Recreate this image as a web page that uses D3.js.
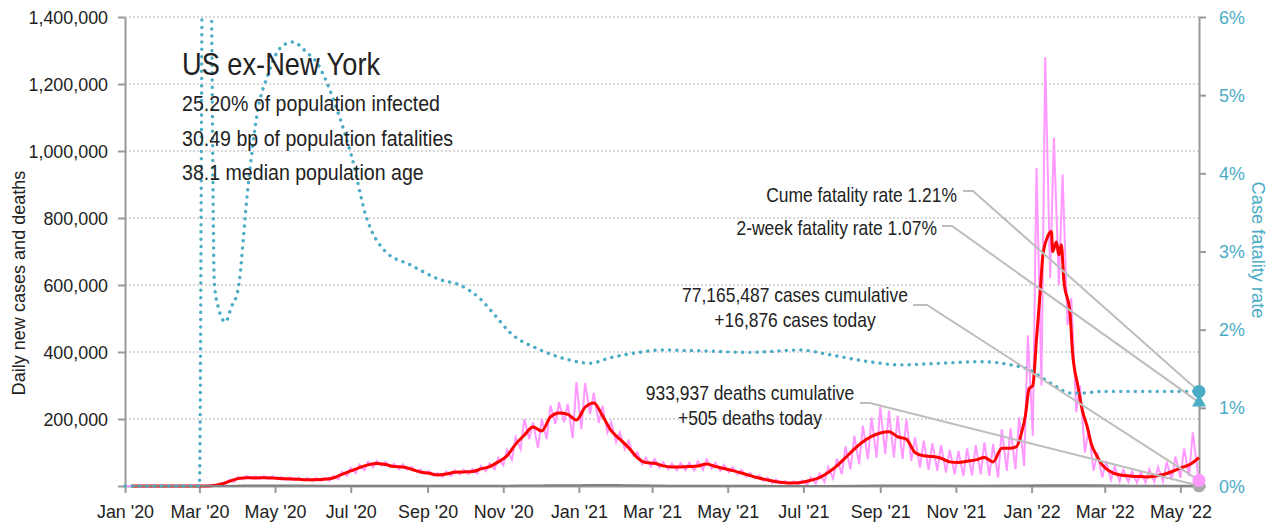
<!DOCTYPE html>
<html>
<head>
<meta charset="utf-8">
<script src="https://cdn.jsdelivr.net/npm/d3@7"></script>
<style>
body{margin:0;background:#fff}
text{font-family:"Liberation Sans",Arial,sans-serif;fill:#222}
</style>
</head>
<body>
<svg id="chart"></svg>
<script>
// weekly daily-case readings (thousands), weeks start on Wednesdays from 2020-01-01
const weekStart = "2020-01-01";
const pinkHigh = [0,0,0,0,0,0,0,0,0.1,0.3,
  1.5,8,19,27,30,29,30,29,27,26,
  25,24,24,25,30,42,54,64,72,75,
  72,66,65,57,49,45,39,43,48,49,
  51,60,67,84,108,145,200,190,200,240,
  250,245,310,307,278,240,190,160,135,100,
  84,80,71,67,68,69,74,80,69,63,
  56,48,39,31,25,19,15,14,17,26,
  37,57,82,118,150,180,205,236,225,210,
  200,145,135,128,122,108,105,112,122,130,
  125,170,172,205,450,950,1280,1040,930,560,
  300,170,100,75,58,48,44,42,50,56,
  72,88,112,160];
const pinkLow = [0,0,0,0,0,0,0,0,0,0.1,
  0.7,4,12,19,22,21,21,20,18,17,
  16,14,15,16,20,30,38,47,56,60,
  56,50,49,43,36,31,27,30,35,36,
  37,44,50,62,78,110,140,113,140,185,
  190,143,170,215,188,160,130,110,90,65,
  58,55,50,47,47,46,48,52,45,41,
  35,28,22,15,9,7,5,4,4,7,
  12,22,35,50,65,80,85,95,85,80,
  75,55,48,45,40,35,30,32,35,30,
  25,45,50,60,150,300,620,600,480,220,
  100,45,25,18,14,12,10,10,12,14,
  18,24,30,40];

// 7-day average of new cases (thousands)
const caseAvg = [
  ["2020-01-06",0],["2020-02-26",0],["2020-03-04",0.1],["2020-03-11",0.7],["2020-03-18",5],["2020-03-25",14],
  ["2020-04-01",22],["2020-04-08",25],["2020-04-15",24],["2020-04-22",25],["2020-04-29",24],["2020-05-06",22],
  ["2020-05-13",21],["2020-05-20",20],["2020-05-27",19],["2020-06-03",19],["2020-06-10",20],["2020-06-17",24],
  ["2020-06-24",35],["2020-07-01",45],["2020-07-08",55],["2020-07-15",63],["2020-07-22",67],["2020-07-29",64],
  ["2020-08-05",58],["2020-08-12",57],["2020-08-19",50],["2020-08-26",42],["2020-09-02",38],["2020-09-09",33],
  ["2020-09-16",36],["2020-09-23",41],["2020-09-30",42],["2020-10-07",43],["2020-10-14",51],["2020-10-21",58],
  ["2020-10-28",72],["2020-11-04",90],["2020-11-11",125],["2020-11-18",152],["2020-11-25",176],["2020-12-02",164],
  ["2020-12-09",206],["2020-12-16",218],["2020-12-23",214],["2020-12-30",197],["2021-01-06",235],["2021-01-13",248],
  ["2021-01-20",210],["2021-01-27",165],["2021-02-03",140],["2021-02-10",115],["2021-02-17",85],["2021-02-24",70],
  ["2021-03-03",68],["2021-03-10",60],["2021-03-17",57],["2021-03-24",57],["2021-03-31",58],["2021-04-07",60],
  ["2021-04-14",66],["2021-04-21",58],["2021-04-28",52],["2021-05-05",46],["2021-05-12",39],["2021-05-19",31],
  ["2021-05-26",24],["2021-06-02",18],["2021-06-09",13],["2021-06-16",10],["2021-06-23",9],["2021-06-30",11],
  ["2021-07-07",17],["2021-07-14",25],["2021-07-21",40],["2021-07-28",60],["2021-08-04",85],["2021-08-11",110],
  ["2021-08-18",132],["2021-08-25",148],["2021-09-01",158],["2021-09-08",162],["2021-09-15",147],["2021-09-22",140],
  ["2021-09-29",100],["2021-10-06",90],["2021-10-13",88],["2021-10-20",83],["2021-10-27",72],["2021-11-03",70],
  ["2021-11-10",74],["2021-11-17",78],["2021-11-24",85],["2021-12-01",72],["2021-12-08",113],["2021-12-15",113],
  ["2021-12-20",118],["2021-12-24",160],["2021-12-27",210],["2021-12-30",290],["2022-01-02",300],["2022-01-05",440],
  ["2022-01-08",580],["2022-01-10",685],["2022-01-14",745],["2022-01-17",760],["2022-01-18",700],["2022-01-21",728],
  ["2022-01-23",690],["2022-01-25",720],["2022-01-27",615],["2022-02-01",515],["2022-02-03",400],["2022-02-07",305],
  ["2022-02-11",225],["2022-02-15",175],["2022-02-18",128],["2022-02-23",87],["2022-02-26",68],["2022-03-07",40],
  ["2022-03-14",33],["2022-03-21",30],["2022-03-28",28],["2022-04-04",27],["2022-04-11",30],["2022-04-18",35],
  ["2022-04-25",44],["2022-05-02",55],["2022-05-09",65],["2022-05-16",85]];

// daily deaths (thousands)
const deaths = [
  ["2020-01-06",0],["2020-03-01",0],["2020-03-15",0.1],["2020-03-31",0.8],["2020-04-15",1.6],["2020-05-01",1.5],
  ["2020-05-15",1.2],["2020-06-15",0.7],["2020-07-15",0.8],["2020-08-01",1.1],["2020-08-15",1.0],["2020-09-15",0.75],
  ["2020-10-15",0.7],["2020-11-15",1.2],["2020-12-01",1.7],["2020-12-15",2.4],["2021-01-01",2.5],["2021-01-15",3.1],
  ["2021-02-01",2.8],["2021-02-15",2.2],["2021-03-01",1.7],["2021-03-15",1.1],["2021-04-15",0.65],["2021-05-15",0.55],
  ["2021-06-15",0.3],["2021-07-15",0.25],["2021-08-15",0.7],["2021-09-15",1.8],["2021-10-01",1.8],["2021-10-15",1.4],
  ["2021-11-15",1.0],["2021-12-15",1.2],["2022-01-15",2.0],["2022-02-01",2.4],["2022-02-15",2.2],["2022-03-15",1.2],
  ["2022-04-15",0.45],["2022-05-16",0.505]];

// cumulative case fatality rate
const cfr = [
  ["2020-01-01",0],["2020-03-01",0],["2020-03-04",0.08],["2020-03-10",0.07],["2020-03-13",0.026],["2020-03-16",0.023],
  ["2020-03-22",0.021],["2020-03-27",0.023],["2020-04-01",0.025],["2020-04-09",0.038],["2020-04-17",0.048],["2020-04-25",0.0525],
  ["2020-05-05",0.056],["2020-05-15",0.0568],["2020-05-27",0.0554],["2020-06-04",0.0541],["2020-06-12",0.0515],["2020-06-22",0.0472],
  ["2020-07-02",0.042],["2020-07-13",0.0347],["2020-07-29",0.030],["2020-08-18",0.0283],["2020-09-11",0.0264],["2020-09-27",0.0257],
  ["2020-10-13",0.024],["2020-10-25",0.0219],["2020-11-06",0.0197],["2020-12-01",0.0174],["2020-12-25",0.0161],["2021-01-10",0.0157],
  ["2021-01-26",0.0164],["2021-02-19",0.0171],["2021-03-07",0.0174],["2021-04-08",0.0173],["2021-05-18",0.0171],["2021-06-28",0.0174],
  ["2021-07-22",0.0168],["2021-08-23",0.0159],["2021-09-17",0.0155],["2021-10-19",0.0157],["2021-11-21",0.0159],["2021-12-15",0.0155],
  ["2021-12-31",0.0148],["2022-01-08",0.0140],["2022-01-20",0.0128],["2022-02-01",0.0119],["2022-02-13",0.0119],["2022-02-25",0.0121],
  ["2022-05-16",0.0121]];

const lastDate = "2022-05-16";
const casesToday = 16876, casesCum = 77165487;
const deathsToday = 505, deathsCum = 933937;
const cumeRate = 0.0121, twoWeekRate = 0.0107;
const infoLines = ["25.20% of population infected", "30.49 bp of population fatalities", "38.1 median population age"];
const leftTicks = [0,200000,400000,600000,800000,1000000,1200000,1400000];
const rightTicks = [0,0.01,0.02,0.03,0.04,0.05,0.06];

const svgWidth = 1276, svgHeight = 529;
const margin = {top:17, bottom:43, left:125, right:77};
const width = svgWidth-margin.left-margin.right;
const height = svgHeight-margin.top-margin.bottom;
const teal = "#4bacc6", pink = "#ff99ff", axisGray = "#999";
const parse = d3.timeParse("%Y-%m-%d");

// narrow the glyphs a bit, the original uses a condensed face
function squeeze(sel, k) {
  sel.each(function() {
    const len = this.getComputedTextLength();
    d3.select(this).attr("textLength", len*k).attr("lengthAdjust", "spacingAndGlyphs");
  });
}

const svg = d3.select("#chart").attr("width", svgWidth).attr("height", svgHeight);
const g = svg.append("g").attr("transform", `translate(${margin.left},${margin.top})`);

const x = d3.scaleTime().domain([parse("2020-01-01"), parse(lastDate)]).range([0, width]);
const yLeft = d3.scaleLinear().domain([0, 1400000]).range([height, 0]);
const yRight = d3.scaleLinear().domain([0, 0.06]).range([height, 0]);

svg.append("defs").append("clipPath").attr("id", "plot")
  .append("rect").attr("x", -3).attr("y", -1).attr("width", width+6).attr("height", height+4);

// gridlines
g.append("g").selectAll("line").data(leftTicks.filter(d => d > 0)).join("line")
  .attr("x1", 0).attr("x2", width)
  .attr("y1", d => yLeft(d)).attr("y2", d => yLeft(d))
  .attr("stroke", "#b4b4b4").attr("stroke-width", 1).attr("stroke-dasharray", "2,2");

// axes
const leftAxis = g.append("g")
  .call(d3.axisLeft(yLeft).tickValues(leftTicks).tickSize(7).tickSizeOuter(0).tickPadding(10)
    .tickFormat(d => d === 0 ? "" : d3.format(",")(d)));
const rightAxis = g.append("g").attr("transform", `translate(${width},0)`)
  .call(d3.axisRight(yRight).tickValues(rightTicks).tickSize(7).tickSizeOuter(0).tickPadding(13)
    .tickFormat(d3.format(".0%")));
const bottomAxis = g.append("g").attr("transform", `translate(0,${height})`)
  .call(d3.axisBottom(x).ticks(d3.timeMonth.every(2)).tickSize(7).tickSizeOuter(0).tickPadding(12)
    .tickFormat(d3.timeFormat("%b '%y")));
[leftAxis, rightAxis, bottomAxis].forEach(a => {
  a.select(".domain").attr("stroke", axisGray).attr("stroke-width", 2);
  a.selectAll(".tick line").attr("stroke", axisGray).attr("stroke-width", 2);
  a.attr("font-family", null).attr("font-size", null);
  a.selectAll("text").attr("font-size", 19).style("fill", "#222");
  squeeze(a.selectAll("text"), 0.94);
});
rightAxis.selectAll("text").style("fill", teal);

// series
const pinkPoints = [];
pinkHigh.forEach((v, i) => {
  const d = d3.timeDay.offset(parse(weekStart), 7*i);
  pinkPoints.push([d, v*1000]);
  pinkPoints.push([d3.timeDay.offset(d, 4), pinkLow[i]*1000]);
});
pinkPoints.push([parse(lastDate), casesToday]);

const plot = g.append("g").attr("clip-path", "url(#plot)");
const lineLeft = d3.line().x(d => x(d[0])).y(d => yLeft(d[1]));

plot.append("path").datum(pinkPoints)
  .attr("d", lineLeft).attr("fill", "none").attr("stroke", pink).attr("stroke-width", 2);

plot.append("path").datum(caseAvg.map(d => [parse(d[0]), d[1]*1000]))
  .attr("d", lineLeft.curve(d3.curveMonotoneX)).attr("fill", "none").attr("stroke", "#ff0000").attr("stroke-width", 3);

plot.append("path").datum(deaths.map(d => [parse(d[0]), d[1]*1000]))
  .attr("d", lineLeft).attr("fill", "none").attr("stroke", "#808080").attr("stroke-width", 2);

plot.append("path").datum(cfr.map(d => [parse(d[0]), d[1]]))
  .attr("d", d3.line().x(d => x(d[0])).y(d => yRight(d[1])).curve(d3.curveMonotoneX))
  .attr("fill", "none").attr("stroke", teal).attr("stroke-width", 3.4)
  .attr("stroke-dasharray", "0.1,7.2").attr("stroke-linecap", "round");

// title block
const title = svg.append("text").text("US ex-New York").attr("x", 182).attr("y", 75).attr("font-size", 32);
squeeze(title, 0.85);
const info = svg.append("g").selectAll("text").data(infoLines).join("text")
  .text(d => d).attr("x", 182).attr("y", (d, i) => 111 + i*34.5).attr("font-size", 22);
squeeze(info, 0.89);

// annotations and leader lines
const xEnd = margin.left + x(parse(lastDate));
const notes = [
  {lines:[`Cume fatality rate ${d3.format(".2%")(cumeRate)}`], tx:957, ty:201.5, anchor:"end",
   from:[[963,191],[973,191]], to:margin.top + yRight(cumeRate)},
  {lines:[`2-week fatality rate ${d3.format(".2%")(twoWeekRate)}`], tx:937, ty:235, anchor:"end",
   from:[[942,226],[952,226]], to:margin.top + yRight(twoWeekRate)},
  {lines:[`${d3.format(",")(casesCum)} cases cumulative`, `+${d3.format(",")(casesToday)} cases today`], tx:795, ty:301.5, anchor:"middle",
   from:[[913,305],[927,305]], to:margin.top + yLeft(casesToday)},
  {lines:[`${d3.format(",")(deathsCum)} deaths cumulative`, `+${d3.format(",")(deathsToday)} deaths today`], tx:750, ty:400, anchor:"middle",
   from:[[860,403],[870,403]], to:margin.top + yLeft(deathsToday)}
];
notes.forEach(n => {
  svg.append("path")
    .attr("d", d3.line()(n.from.concat([[xEnd, n.to]])))
    .attr("fill", "none").attr("stroke", "#bdbdbd").attr("stroke-width", 2);
  n.lines.forEach((t, i) => {
    const txt = svg.append("text").text(t).attr("x", n.tx).attr("y", n.ty + i*25)
      .attr("text-anchor", n.anchor).attr("font-size", 21);
    squeeze(txt, 0.83);
  });
});

// end markers
svg.append("circle").attr("cx", xEnd).attr("cy", margin.top + yLeft(deathsToday)).attr("r", 6.5).attr("fill", "#aaa");
svg.append("circle").attr("cx", xEnd).attr("cy", margin.top + yLeft(casesToday)).attr("r", 6.5).attr("fill", pink);
svg.append("path").attr("d", d3.symbol(d3.symbolTriangle).size(85))
  .attr("transform", `translate(${xEnd},${margin.top + yRight(twoWeekRate)})`).attr("fill", teal);
svg.append("circle").attr("cx", xEnd).attr("cy", margin.top + yRight(cumeRate)).attr("r", 6.5).attr("fill", teal);

// axis titles
const leftTitle = svg.append("text").text("Daily new cases and deaths")
  .attr("transform", "translate(25,283) rotate(-90)").attr("text-anchor", "middle").attr("font-size", 19);
squeeze(leftTitle, 0.95);
const rightTitle = svg.append("text").text("Case fatality rate")
  .attr("transform", "translate(1252,250) rotate(90)").attr("text-anchor", "middle").attr("font-size", 19)
  .style("fill", teal);
squeeze(rightTitle, 0.96);
</script>
</body>
</html>
